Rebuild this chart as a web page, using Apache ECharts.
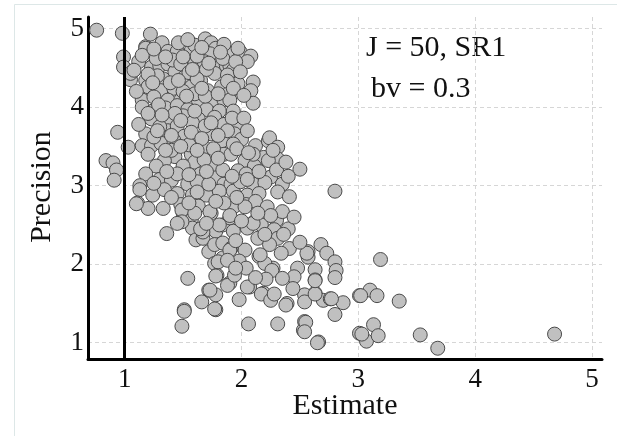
<!DOCTYPE html>
<html>
<head>
<meta charset="utf-8">
<script src="https://cdn.jsdelivr.net/npm/echarts@6/dist/echarts.min.js"></script>
<style>html,body{margin:0;padding:0;background:#fff}#c{width:617px;height:436px}</style>
</head>
<body>
<div id="c"></div>
<script>
var xTicks = [1, 2, 3, 4, 5];
var yTicks = [1, 2, 3, 4, 5];
var refLineX = 1;
var annotation1 = 'J = 50, SR1';
var annotation2 = 'bv = 0.3';
var xTitle = 'Estimate';
var yTitle = 'Precision';

var points = [
[0.76,4.98],[0.98,4.94],[0.99,4.64],[0.99,4.51],[1.05,4.35],[1.07,4.46],[1.18,4.77],[1.22,4.93],[0.94,3.68],[1.03,3.49],[0.84,3.32],[0.90,3.29],[0.93,3.20],[0.91,3.07],
[1.18,4.75],[1.32,4.82],[1.37,4.71],[1.45,4.71],[1.57,4.72],[1.60,4.79],[1.69,4.87],[1.74,4.82],[1.78,4.75],[1.73,4.68],[1.05,4.43],[1.12,4.58],[1.23,4.51],[1.30,4.53],[1.37,4.55],[1.43,4.45],[1.53,4.53],[1.60,4.55],[1.68,4.58],[1.80,4.53],[1.87,4.53],[1.08,4.47],[1.18,4.34],[1.33,4.36],[1.51,4.38],[1.65,4.34],[1.77,4.43],[1.20,4.26],[1.31,4.21],[1.42,4.24],[1.57,4.26],[1.71,4.21],[1.83,4.26],[1.15,4.09],[1.25,4.13],[1.37,4.09],[1.48,4.09],[1.63,4.09],[1.77,4.09],[1.85,4.09],
[1.91,4.68],[1.99,4.70],[2.08,4.65],[2.05,4.58],[1.90,4.53],[1.93,4.47],[1.88,4.41],[2.10,4.32],[2.08,4.21],[2.10,4.05],[1.90,4.19],[1.90,4.09],
[1.15,4.00],[1.24,3.95],[1.35,3.99],[1.45,4.02],[1.54,3.97],[1.70,3.97],[1.81,3.95],[1.23,3.85],[1.37,3.85],[1.50,3.89],[1.63,3.85],[1.77,3.87],[1.85,3.78],[1.18,3.66],[1.37,3.70],[1.45,3.76],[1.51,3.63],[1.61,3.61],[1.74,3.66],[1.68,3.49],[1.83,3.57],[1.15,3.51],[1.23,3.51],[1.31,3.54],[1.43,3.37],[1.34,3.32],[1.57,3.40],[1.60,3.30],[1.75,3.25],[1.85,3.40],[1.27,3.25],[1.18,3.15],[1.30,3.08],[1.40,3.07],[1.65,3.15],[1.78,3.10],[1.13,3.00],[1.85,3.02],[1.54,3.02],
[1.93,3.95],[1.98,3.78],[1.94,3.66],[2.00,3.59],[1.91,3.40],[2.12,3.51],[2.23,3.57],[2.24,3.61],[2.31,3.49],[2.19,3.36],[2.31,3.34],[2.03,3.32],[2.11,3.25],[2.23,3.32],[1.97,3.19],[2.04,3.15],[2.50,3.21],[2.25,3.11],[2.35,3.02],[1.91,3.02],[2.10,3.02],[2.20,3.04],[2.80,2.93],
[1.13,2.95],[1.24,2.88],[1.11,2.78],[1.20,2.71],[1.33,2.71],[1.34,2.95],[1.45,2.90],[1.58,2.88],[1.70,2.88],[1.81,2.93],[1.48,2.76],[1.63,2.74],[1.74,2.65],[1.50,2.65],[1.57,2.56],[1.58,2.46],[1.36,2.39],[1.78,2.42],[1.84,2.50],[1.61,2.31],[1.67,2.33],[1.72,2.16],[1.77,2.25],[1.84,2.27],[1.77,2.01],[1.84,2.08],
[1.93,2.93],[2.05,2.88],[2.15,2.90],[2.31,2.92],[2.41,2.86],[1.94,2.74],[2.04,2.76],[2.12,2.80],[1.90,2.59],[2.11,2.54],[2.17,2.50],[2.30,2.56],[2.05,2.46],[2.28,2.44],[2.31,2.33],[1.93,2.42],[2.14,2.33],[2.24,2.25],[2.41,2.20],[2.34,2.14],[2.03,2.18],[1.91,2.20],[2.15,2.10],[1.98,2.04],[2.27,1.95],[2.48,1.95],[2.04,1.95],[2.20,2.01],
[3.19,2.06],[3.35,1.53],[3.01,1.60],[3.10,1.67],[3.16,1.60],[3.13,1.23],[3.01,1.12],[3.07,1.02],[3.17,1.09],[3.53,1.10],[3.68,0.93],[4.68,1.11],[2.68,2.25],[2.73,2.14],[2.80,2.03],[2.81,1.92],[2.80,1.83],[2.57,2.16],[2.57,2.09],[2.63,1.93],[2.63,1.80],[2.63,1.63],[2.54,1.61],[2.70,1.54],[2.76,1.56],[2.87,1.51],[2.80,1.36],[2.54,1.27],[2.53,1.16],[2.66,1.01],
[1.54,1.82],[1.51,1.42],[1.49,1.21],[1.66,1.52],[1.72,1.67],[1.78,1.61],[1.78,1.42],[1.98,1.55],[2.06,1.24],[2.31,1.24],[1.79,1.86],
[1.10,2.77],[1.49,2.69],[1.60,2.65],[1.73,2.67],[1.90,2.62],[2.03,2.73],[1.49,2.54],[1.67,2.41],[1.81,2.50],[2.10,2.52],[1.80,2.03],[1.90,2.18],[2.16,2.12],[2.26,1.92],[1.90,1.76],[2.07,1.71],[2.19,1.63],[2.39,1.50],[2.45,1.84],[2.56,2.14],
[1.78,1.85],[1.88,1.73],[1.73,1.67],[1.77,1.43],[1.51,1.40],
[1.94,1.86],[2.05,1.71],[2.17,1.62],[2.25,1.54],[2.28,1.62],[2.38,1.48],[2.44,1.69],[2.54,1.52],[2.63,1.62],[2.63,1.79],[2.77,1.56],[2.21,1.81],[2.55,1.26],[2.54,1.14],[2.65,1.00],[3.02,1.60],[3.03,1.11],
[1.27,4.62],[1.41,4.60],[1.48,4.55],[1.62,4.65],[1.55,4.44],[1.70,4.48],[1.84,4.62],[1.95,4.58],[1.28,4.40],[1.39,4.31],[1.60,4.17],[1.50,4.20],[1.69,4.14],[1.80,4.17],[1.97,4.30],[1.29,4.03],[1.43,3.92],[1.58,3.80],[1.69,3.76],[1.92,3.86],[1.30,3.75],[1.25,3.62],[1.42,3.58],[1.55,3.52],[1.76,3.47],[1.93,3.53],[1.40,3.45],[1.50,3.25],[1.68,3.33],[1.84,3.20],[1.45,3.15],[1.62,3.05],[1.72,3.02],[1.99,3.05],[2.10,3.40],[2.15,3.18],[1.96,2.85],[2.22,2.73],[2.35,2.67],[2.25,2.62],[1.85,2.78],[1.40,2.85],[1.55,2.78],[1.65,2.45],[1.95,2.30],[2.40,2.45],[2.45,2.60],[1.62,4.36],[1.46,4.82],[1.54,4.86],[1.85,4.80],[1.97,4.75],
[1.15,4.66],[1.25,4.74],[1.35,4.64],[1.50,4.64],[1.66,4.76],[1.82,4.70],[1.20,4.42],[1.46,4.34],[1.58,4.48],[1.72,4.56],[1.88,4.33],[1.99,4.45],[1.10,4.20],[1.24,4.31],[1.53,4.14],[1.66,4.24],[1.93,4.24],[2.02,4.15],[1.20,3.92],[1.32,3.90],[1.48,3.83],[1.60,3.95],[1.74,3.80],[1.88,3.70],[2.02,3.86],[1.12,3.78],[1.28,3.70],[1.40,3.64],[1.57,3.68],[1.66,3.60],[1.80,3.64],[2.05,3.70],[1.20,3.40],[1.35,3.45],[1.48,3.50],[1.62,3.45],[1.80,3.35],[1.96,3.47],[2.06,3.42],[1.25,3.03],[1.36,3.18],[1.55,3.14],[1.70,3.18],[1.92,3.12],[2.05,3.08],[2.30,3.20],[2.40,3.12],[2.38,3.30],[2.27,3.45],[2.14,2.65],[2.00,2.55],[1.78,2.80],[1.62,2.92],[1.45,2.52],[1.70,2.52],[2.20,2.38],[2.36,2.38],[2.50,2.28],[1.88,2.05],[1.95,1.95],[2.35,1.82],[2.12,1.83]
];
var estimates = points.map(function(p){return p[0];});
var precisions = points.map(function(p){return p[1];});

var serif = '"Liberation Serif", "DejaVu Serif", serif';
var chart = echarts.init(document.getElementById('c'), null, {renderer: 'canvas'});
chart.setOption({
  animation: false,
  backgroundColor: '#ffffff',
  grid: {left: 88, right: 15, top: 17, bottom: 77, containLabel: false},
  xAxis: {
    type: 'value', min: 0.686, max: 5.086,
    axisLine: {show: true, onZero: false, lineStyle: {color: '#000', width: 3}},
    axisTick: {show: false, customValues: xTicks},
    axisLabel: {customValues: xTicks, color: '#111', fontFamily: serif, fontSize: 27, margin: 7},
    splitLine: {show: true, lineStyle: {color: '#d6d6d6', type: [4, 3], width: 1}}
  },
  yAxis: {
    type: 'value', min: 0.793, max: 5.148,
    axisLine: {show: true, onZero: false, lineStyle: {color: '#000', width: 3}},
    axisTick: {show: false, customValues: yTicks},
    axisLabel: {customValues: yTicks, color: '#111', fontFamily: serif, fontSize: 27, margin: 4},
    splitLine: {show: true, lineStyle: {color: '#d6d6d6', type: [4, 3], width: 1}}
  },
  series: [{
    type: 'scatter',
    data: estimates.map(function(x, i){return [x, precisions[i]];}),
    symbolSize: 14,
    itemStyle: {color: '#c0c0c0', borderColor: '#4a4a4a', borderWidth: 1, opacity: 1},
    markLine: {
      silent: true, symbol: 'none', animation: false,
      label: {show: false},
      lineStyle: {color: '#000', width: 3, type: 'solid'},
      data: [{xAxis: refLineX}]
    },
    z: 3
  }],
  graphic: [
    {type: 'rect', left: 12, top: 2, shape: {width: 603, height: 433}, style: {fill: 'none', stroke: '#dde7e7', lineWidth: 1}, z: -1, silent: true},
    {type: 'text', x: 366, y: 48, style: {text: annotation1, font: '30px ' + serif, fill: '#111', textVerticalAlign: 'middle'}},
    {type: 'text', x: 371, y: 89, style: {text: annotation2, font: '30px ' + serif, fill: '#111', textVerticalAlign: 'middle'}},
    {type: 'text', x: 345, y: 406, style: {text: xTitle, font: '30px ' + serif, fill: '#111', textAlign: 'center', textVerticalAlign: 'middle'}},
    {type: 'text', x: 42, y: 187, rotation: Math.PI / 2, style: {text: yTitle, font: '30px ' + serif, fill: '#111', textAlign: 'center', textVerticalAlign: 'middle'}}
  ]
});
</script>
</body>
</html>
